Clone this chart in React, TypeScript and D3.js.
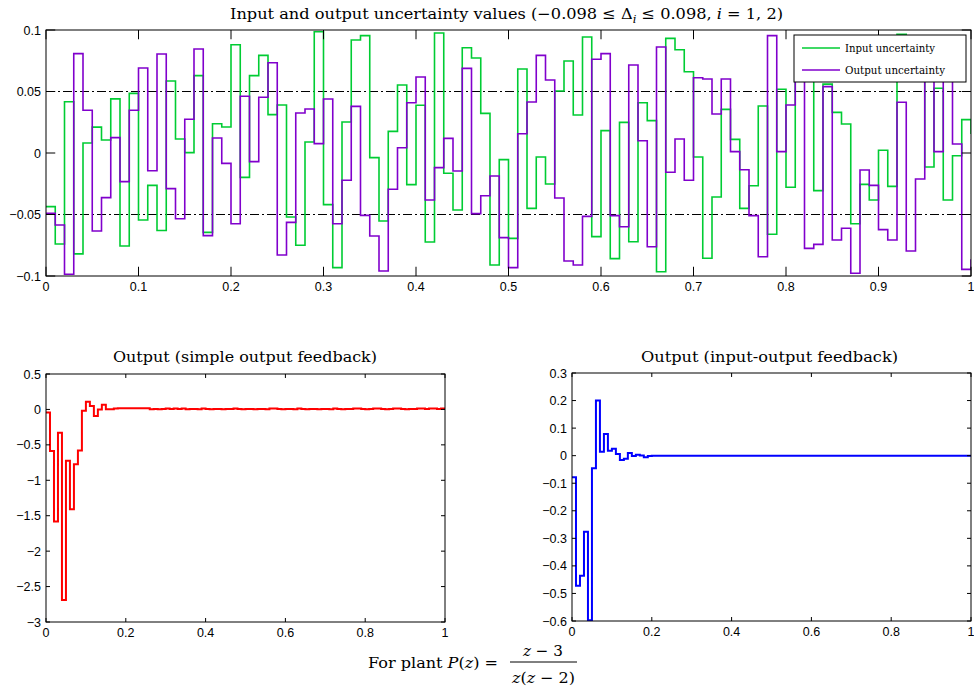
import React from 'react';
import * as d3 from 'd3';

// Sampling period of the discrete-time signals (seconds)
const sampleStep = 0.01;

// Uncertainty Δ1 (input) and Δ2 (output) per sample, k = 0..100
const inputUncertainty = [
  -0.0436, -0.074, 0.0417, -0.082, 0.0081, 0.021, 0.0106, 0.044, -0.0756, 0.0485,
  -0.0545, -0.0263, -0.063, 0.0585, 0.0114, 0.0003, 0.0629, -0.0645, 0.0238, 0.0211,
  0.088, -0.0198, 0.0629, 0.0794, 0.0312, 0.039, -0.052, -0.075, 0.0089, 0.0986,
  -0.042, -0.0932, 0.0252, 0.0919, 0.0954, -0.0038, -0.0553, 0.0176, 0.0553, -0.0257,
  0.0388, -0.0724, 0.0976, -0.0165, -0.0463, 0.0856, 0.0772, 0.0322, -0.091, -0.0054,
  -0.0694, 0.0683, -0.045, -0.0033, -0.0252, 0.0504, 0.0748, 0.0309, 0.0943, -0.068,
  0.0182, -0.0859, 0.0249, -0.0721, 0.0409, 0.0263, -0.0965, 0.0932, 0.084, 0.0661,
  -0.0033, -0.0856, -0.0358, 0.0355, 0.0111, -0.045, -0.0266, 0.0382, -0.0661, 0.0518,
  -0.0279, 0.071, 0.082, -0.0306, 0.056, 0.033, 0.0236, -0.0575, -0.0255, -0.0382,
  0.0022, -0.0271, 0.0965, 0.075, 0.065, -0.0114, 0.0526, -0.0382, -0.0022, 0.0271,
  0.016,
];

const outputUncertainty = [
  -0.049, -0.0585, -0.0986, 0.0808, 0.0347, -0.0634, -0.0363, 0.0125, -0.0233, 0.0347,
  0.0691, -0.0144, 0.0805, -0.029, -0.0534, 0.0274, 0.0846, -0.0672, 0.0122, -0.0084,
  -0.0575, 0.0461, -0.007, 0.0453, 0.0734, -0.0829, -0.0564, 0.0325, 0.0358, 0.0076,
  0.0439, -0.0575, -0.0222, 0.0379, -0.0507, -0.0675, -0.0959, -0.0295, 0.0043, 0.0409,
  0.0618, -0.0382, -0.0119, 0.0119, -0.0146, 0.0688, -0.0493, -0.0347, -0.0187, -0.0688,
  -0.0932, 0.0157, 0.0415, 0.0794, 0.0593, -0.0366, -0.0878, -0.091, -0.0515, 0.0762,
  0.0808, -0.0509, -0.0599, 0.0715, 0.01, -0.0762, 0.0862, -0.0157, 0.0114, -0.0222,
  0.0612, 0.0602, 0.0317, 0.0602, 0.0011, -0.0136, -0.0509, -0.0843, 0.0954, 0.0011,
  0.039, 0.08, -0.0775, -0.0743, 0.054, -0.0707, -0.0612, -0.0978, -0.0138, -0.0263,
  -0.0623, -0.0707, 0.0412, -0.0797, -0.0211, 0.07, 0.0011, 0.075, 0.0073, -0.0946,
  -0.087,
];

// Closed-loop output y(k) with simple output feedback
const simpleFeedbackOutput = [
  -0.042, -0.585, -1.58, -0.33, -2.69, -0.726, -1.41, -0.774, -0.58, -0.019,
  0.108, 0.047, -0.094, 0.0, 0.066, 0.002, 0.002, 0.012, 0.016, 0.017,
  0.017, 0.016, 0.017, 0.016, 0.015, 0.015, 0.004, 0.005, 0.004, 0.005,
  0.014, 0.006, 0.013, 0.005, 0.013, 0.004, 0.006, 0.005, 0.004, 0.014,
  0.005, 0.004, 0.005, 0.006, 0.004, 0.005, 0.005, 0.014, 0.005, 0.004,
  0.006, 0.005, 0.004, 0.005, 0.005, 0.004, 0.014, 0.013, 0.005, 0.004,
  0.006, 0.005, 0.004, 0.013, 0.005, 0.004, 0.005, 0.006, 0.004, 0.005,
  0.005, 0.004, 0.014, 0.005, 0.004, 0.006, 0.005, 0.013, 0.014, 0.005,
  0.004, 0.006, 0.013, 0.014, 0.005, 0.004, 0.005, 0.014, 0.013, 0.005,
  0.004, 0.006, 0.005, 0.014, 0.013, 0.005, 0.014, 0.013, 0.005, 0.014,
  0.005,
];

// Closed-loop output y(k) with input-output feedback
const ioFeedbackOutput = [
  -0.0787, -0.472, -0.436, -0.276, -0.597, -0.046, 0.2, 0.0145, 0.0787, 0.018,
  0.025, 0.006, -0.016, -0.011, 0.0097, -0.001, 0.0036, 0.001, -0.006, -0.001,
  0, 0, 0, 0, 0, 0, 0, 0, 0, 0,
  0, 0, 0, 0, 0, 0, 0, 0, 0, 0,
  0, 0, 0, 0, 0, 0, 0, 0, 0, 0,
  0, 0, 0, 0, 0, 0, 0, 0, 0, 0,
  0, 0, 0, 0, 0, 0, 0, 0, 0, 0,
  0, 0, 0, 0, 0, 0, 0, 0, 0, 0,
  0, 0, 0, 0, 0, 0, 0, 0, 0, 0,
  0, 0, 0, 0, 0, 0, 0, 0, 0, 0,
  0,
];

const uncertaintyBound = 0.05;
const seriesNames = ['Input uncertainty', 'Output uncertainty'];

const topXTicks = [0, 0.1, 0.2, 0.3, 0.4, 0.5, 0.6, 0.7, 0.8, 0.9, 1];
const topYTicks = [-0.1, -0.05, 0, 0.05, 0.1];
const bottomXTicks = [0, 0.2, 0.4, 0.6, 0.8, 1];
const leftYTicks = [-3, -2.5, -2, -1.5, -1, -0.5, 0, 0.5];
const rightYTicks = [-0.6, -0.5, -0.4, -0.3, -0.2, -0.1, 0, 0.1, 0.2, 0.3];

const GREEN = '#00cc33';
const PURPLE = '#8000cc';
const SERIF = '"DejaVu Serif", "Liberation Serif", serif';
const SANS = '"Liberation Sans", Arial, sans-serif';

const fmt = (v: number) => String(v).replace('-', '\u2212');

type PanelProps = {
  left: number; top: number; right: number; bottom: number;
  xDomain: [number, number]; yDomain: [number, number];
  xTicks: number[]; yTicks: number[];
  series: { values: number[]; color: string; width: number }[];
  refLines?: number[];
  children?: React.ReactNode;
};

function Panel({ left, top, right, bottom, xDomain, yDomain, xTicks, yTicks, series, refLines, children }: PanelProps) {
  const x = d3.scaleLinear().domain(xDomain).range([left, right]);
  const y = d3.scaleLinear().domain(yDomain).range([bottom, top]);
  const tickLen = 0.01 * Math.max(right - left, bottom - top);
  const line = d3
    .line<number>()
    .x((_, i) => x(i * sampleStep))
    .y((d) => y(d))
    .curve(d3.curveStepAfter);
  const clipId = `clip-${left}-${top}`;
  return (
    <g>
      <defs>
        <clipPath id={clipId}>
          <rect x={left} y={top} width={right - left} height={bottom - top} />
        </clipPath>
      </defs>
      <rect x={left} y={top} width={right - left} height={bottom - top} fill="#fff" />
      <g clipPath={`url(#${clipId})`}>
        {(refLines || []).map((r) => (
          <line key={r} x1={left} x2={right} y1={y(r)} y2={y(r)} stroke="#000" strokeWidth={1}
            strokeDasharray="9,3,2,3" />
        ))}
        {series.map((s, i) => (
          <path key={i} d={line(s.values) || ''} fill="none" stroke={s.color} strokeWidth={s.width}
            strokeLinejoin="miter" strokeLinecap="square" />
        ))}
      </g>
      {/* axes box with inward ticks on every side */}
      <rect x={left} y={top} width={right - left} height={bottom - top} fill="none" stroke="#000" strokeWidth={1} />
      {xTicks.map((t) => (
        <g key={`x${t}`}>
          <line x1={x(t)} x2={x(t)} y1={bottom} y2={bottom - tickLen} stroke="#000" />
          <line x1={x(t)} x2={x(t)} y1={top} y2={top + tickLen} stroke="#000" />
          <text x={x(t)} y={bottom + 15} textAnchor="middle" fontFamily={SANS} fontSize={12.5}>{fmt(t)}</text>
        </g>
      ))}
      {yTicks.map((t) => (
        <g key={`y${t}`}>
          <line x1={left} x2={left + tickLen} y1={y(t)} y2={y(t)} stroke="#000" />
          <line x1={right} x2={right - tickLen} y1={y(t)} y2={y(t)} stroke="#000" />
          <text x={left - 5} y={y(t) + 4.5} textAnchor="end" fontFamily={SANS} fontSize={12.5}>{fmt(t)}</text>
        </g>
      ))}
      {children}
    </g>
  );
}

export default function App() {
  return (
    <svg width={974} height={688} viewBox="0 0 974 688"
      style={{ position: 'absolute', left: 0, top: 0, background: '#fff' }}>
      <rect width={974} height={688} fill="#fff" />

      <text x={230} y={19} fontFamily={SERIF} fontSize={15.5} textLength={553} lengthAdjust="spacingAndGlyphs">
        Input and output uncertainty values (−0.098 ≤ Δ
        <tspan fontStyle="italic" fontSize={11} dy={4}>i</tspan>
        <tspan dy={-4}> ≤ 0.098, </tspan>
        <tspan fontStyle="italic">i</tspan> = 1, 2)
      </text>
      <Panel left={46} top={30} right={971} bottom={276} xDomain={[0, 1]} yDomain={[-0.1, 0.1]}
        xTicks={topXTicks} yTicks={topYTicks} refLines={[uncertaintyBound, -uncertaintyBound]}
        series={[
          { values: inputUncertainty, color: GREEN, width: 1.6 },
          { values: outputUncertainty, color: PURPLE, width: 1.6 },
        ]}>
        <g>
          <rect x={794} y={35} width={172} height={47} fill="#fff" stroke="#000" strokeWidth={1} />
          {seriesNames.map((name, i) => (
            <g key={name}>
              <line x1={802} x2={840} y1={48 + i * 22} y2={48 + i * 22} stroke={i === 0 ? GREEN : PURPLE} strokeWidth={1.6} />
              <text x={845} y={52 + i * 22} fontFamily={SERIF} fontSize={10.5}
                textLength={i === 0 ? 90 : 100} lengthAdjust="spacingAndGlyphs">{name}</text>
            </g>
          ))}
        </g>
      </Panel>

      <text x={113} y={362} fontFamily={SERIF} fontSize={15.5} textLength={264} lengthAdjust="spacingAndGlyphs">
        Output (simple output feedback)
      </text>
      <Panel left={46} top={374} right={445} bottom={622} xDomain={[0, 1]} yDomain={[-3, 0.5]}
        xTicks={bottomXTicks} yTicks={leftYTicks}
        series={[{ values: simpleFeedbackOutput, color: '#ff0000', width: 2 }]} />

      <text x={641} y={362} fontFamily={SERIF} fontSize={15.5} textLength={257} lengthAdjust="spacingAndGlyphs">
        Output (input-output feedback)
      </text>
      <Panel left={572} top={373} right={971} bottom={621} xDomain={[0, 1]} yDomain={[-0.6, 0.3]}
        xTicks={bottomXTicks} yTicks={rightYTicks}
        series={[{ values: ioFeedbackOutput, color: '#0000ff', width: 2 }]} />

      <g fontFamily={SERIF} fontSize={15.5}>
        <text x={368} y={668} textLength={130} lengthAdjust="spacingAndGlyphs">
          For plant <tspan fontStyle="italic">P</tspan>(<tspan fontStyle="italic">z</tspan>) =
        </text>
        <text x={523} y={656} textLength={40} lengthAdjust="spacingAndGlyphs">
          <tspan fontStyle="italic">z</tspan> − 3
        </text>
        <line x1={510} x2={577} y1={662} y2={662} stroke="#000" strokeWidth={1} />
        <text x={512} y={683} textLength={63} lengthAdjust="spacingAndGlyphs">
          <tspan fontStyle="italic">z</tspan>(<tspan fontStyle="italic">z</tspan> − 2)
        </text>
      </g>
    </svg>
  );
}
